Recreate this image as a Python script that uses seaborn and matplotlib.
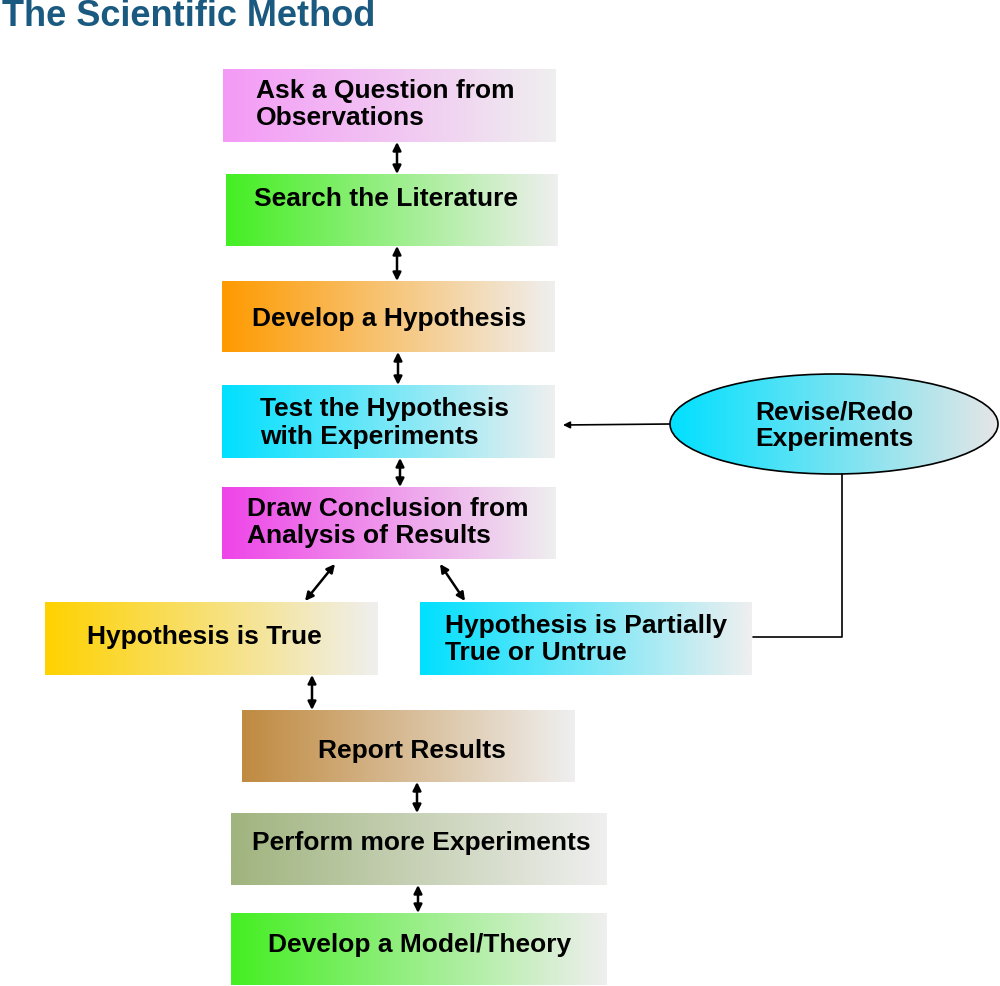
import matplotlib.pyplot as plt
import matplotlib.colors as mcolors
from matplotlib.patches import Ellipse
import seaborn as sns
import numpy as np

sns.set_style("white")
plt.rcParams['font.family'] = ['Liberation Sans', 'DejaVu Sans']
plt.rcParams['text.color'] = 'black'

# Box labels, text lines and gradient start colours
labels = [
    ["Ask a Question from", "Observations"],
    ["Search the Literature"],
    ["Develop a Hypothesis"],
    ["Test the Hypothesis", "with Experiments"],
    ["Draw Conclusion from", "Analysis of Results"],
    ["Hypothesis is True"],
    ["Hypothesis is Partially", "True or Untrue"],
    ["Report Results"],
    ["Perform more Experiments"],
    ["Develop a Model/Theory"],
]
colors = ["#f49af6", "#44ee22", "#ff9a00", "#00e0ff", "#ee44e8",
          "#ffd200", "#00e0ff", "#c08a40", "#a0b47e", "#44ee22"]
# box extents in pixels: left, right, top, bottom
boxes = [(223, 556, 70, 143), (226, 558, 175, 247), (222, 555, 282, 353),
         (222, 555, 386, 459), (222, 556, 488, 560), (45, 378, 603, 676),
         (420, 752, 603, 676), (242, 575, 711, 783), (231, 607, 814, 886),
         (231, 607, 914, 986)]
text_x = [256, 254, 252, 260, 247, 87, 445, 318, 252, 268]
text_y = [[91, 118], [199], [319], [409, 437], [509, 536], [637], [626, 653],
          [751], [843], [945]]

# double arrows: (x1, y1, x2, y2)
arrows = [(397, 143, 397, 175), (397, 247, 397, 282), (398, 353, 398, 386),
          (400, 459, 400, 488), (335, 565, 305, 602), (440, 565, 465, 602),
          (312, 676, 312, 711), (417, 783, 417, 814), (418, 886, 418, 914)]

fig = plt.figure(figsize=(10, 9.87), dpi=100)
ax = fig.add_axes([0, 0, 1, 1])
ax.set_xlim(0, 1000)
ax.set_ylim(987, 0)
ax.axis('off')

ax.text(2, 16, "The Scientific Method", fontsize=26, fontweight='bold',
        color='#1a5a80', va='center', ha='left')

grad = np.linspace(0, 1, 256).reshape(1, -1)
for lab, col, (l, r, t, b), tx, tys in zip(labels, colors, boxes, text_x, text_y):
    cmap = mcolors.LinearSegmentedColormap.from_list("g", [col, "#efefef"])
    ax.imshow(grad, cmap=cmap, extent=(l, r, b, t), aspect='auto', zorder=1)
    for line, ty in zip(lab, tys):
        ax.text(tx, ty, line, fontsize=19, fontweight='bold', va='center',
                ha='left', zorder=3)

for x1, y1, x2, y2 in arrows:
    ax.annotate("", xy=(x2, y2), xytext=(x1, y1),
                arrowprops=dict(arrowstyle='<|-|>', color='black', lw=1.8,
                                mutation_scale=12, shrinkA=0, shrinkB=0), zorder=4)

# ellipse with gradient
cmap = mcolors.LinearSegmentedColormap.from_list("e", ["#00e0ff", "#e6e6e6"])
im = ax.imshow(grad, cmap=cmap, extent=(670, 999, 475, 375), aspect='auto', zorder=1)
ell = Ellipse((834, 425), 328, 100, facecolor='none', edgecolor='black', lw=1.2, zorder=2)
ax.add_patch(ell)
im.set_clip_path(ell)
ax.text(755, 412, "Revise/Redo", fontsize=19, fontweight='bold', va='center', zorder=3)
ax.text(755, 439, "Experiments", fontsize=19, fontweight='bold', va='center', zorder=3)

ax.plot([842, 842, 753], [475, 638, 638], color='black', lw=1.2)
ax.annotate("", xy=(563, 426), xytext=(670, 425),
            arrowprops=dict(arrowstyle='-|>', color='black', lw=1.2,
                            mutation_scale=10, shrinkA=0, shrinkB=0))

fig.savefig("out.png", dpi=100)
